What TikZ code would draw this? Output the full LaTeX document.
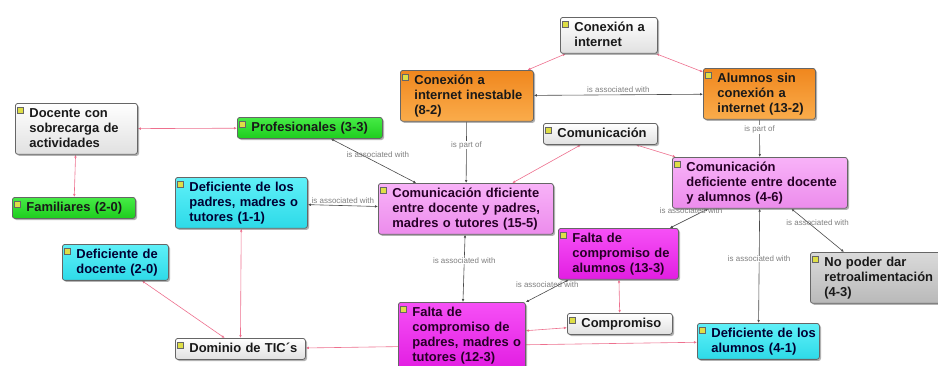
\documentclass[tikz,border=0pt]{standalone}
\usepackage{fontspec}
\setmainfont{Liberation Sans}
\usetikzlibrary{arrows.meta,shadows,backgrounds}

\definecolor{linkgray}{RGB}{75,75,75}
\definecolor{linkpink}{RGB}{238,112,142}
\definecolor{iconyellow}{RGB}{222,222,70}
\definecolor{orngtop}{RGB}{240,135,30}
\definecolor{orngbot}{RGB}{250,172,75}
\definecolor{grntop}{RGB}{70,235,70}
\definecolor{grnbot}{RGB}{30,205,30}
\definecolor{cyntop}{RGB}{95,240,248}
\definecolor{cynbot}{RGB}{45,218,232}
\definecolor{lpinktop}{RGB}{248,178,248}
\definecolor{lpinkbot}{RGB}{236,140,236}
\definecolor{mgnttop}{RGB}{246,80,246}
\definecolor{mgntbot}{RGB}{226,30,226}
\definecolor{grytop}{RGB}{218,218,218}
\definecolor{grybot}{RGB}{185,185,185}

\tikzset{
  linktip/.tip={Latex[length=3bp,width=2.6bp]},
  concept/.style={draw=black!60, line width=0.8bp, rounded corners=2.5bp,
    anchor=north west, align=left, inner xsep=3bp, inner ysep=4bp,
    font=\fontsize{13}{15}\selectfont\bfseries, text=black!90,
    execute at begin node={\leftskip=11bp\relax\rule{0pt}{10bp}},
    execute at end node={\rule[-3bp]{0pt}{3bp}},
    drop shadow={shadow xshift=1.6bp, shadow yshift=-1.6bp, fill=black!60, opacity=.5}},
  plain/.style={top color=white, bottom color=black!12},
  orng/.style={top color=orngtop, bottom color=orngbot},
  grn/.style={top color=grntop, bottom color=grnbot},
  cyn/.style={top color=cyntop, bottom color=cynbot, text=black!80!blue},
  lpink/.style={top color=lpinktop, bottom color=lpinkbot, text=black!70!violet},
  mgnt/.style={top color=mgnttop, bottom color=mgntbot, text=black!70!violet},
  gry/.style={top color=grytop, bottom color=grybot},
  icon/.style={draw=black!60, fill=iconyellow, line width=0.5bp,
    minimum width=6bp, minimum height=6bp, inner sep=0pt},
  assoc/.style={draw=linkgray, line width=0.6bp, arrows={linktip-linktip}},
  partof/.style={draw=linkgray, line width=0.6bp, arrows={-linktip}},
  xlink/.style={draw=linkpink, line width=0.6bp, arrows={linktip-linktip}},
  linklabel/.style={font=\fontsize{8}{9}\selectfont, text=black!50, inner sep=0.5bp},
  cutlabel/.style={linklabel, fill=white}
}

\begin{document}
\begin{tikzpicture}[x=1bp, y=-1bp]
  \useasboundingbox (0,0) rectangle (938,365);
  \clip (0,0) rectangle (938,365);

  % top row
  \node[concept, plain, text width=91bp]  (netA)     at (560,17) {Conexión a\\internet};
  \node[concept, orng, text width=127bp]  (netInest) at (400,70) {Conexión a\\internet inestable\\(8-2)};
  \node[concept, orng, text width=106bp]  (sinNet)   at (703,68) {Alumnos sin\\conexión a\\internet (13-2)};

  % left side
  \node[concept, plain, text width=116bp] (sobrecarga) at (15,103)  {Docente con\\sobrecarga de\\actividades};
  \node[concept, grn, text width=139bp]   (prof)       at (237,117) {Profesionales (3-3)};
  \node[concept, grn, text width=117bp]   (fam)        at (12,197)  {Familiares (2-0)};
  \node[concept, cyn, text width=126bp]   (defPadres)  at (175,177) {Deficiente de los\\padres, madres o\\tutores (1-1)};
  \node[concept, cyn, text width=100bp]   (defDoc)     at (62,244)  {Deficiente de\\docente (2-0)};
  \node[concept, plain, text width=124bp] (tic)        at (175,338) {Dominio de TIC´s};

  % middle
  \node[concept, lpink, text width=169bp] (comPadres)   at (378,183) {Comunicación dficiente\\entre docente y padres,\\madres o tutores (15-5)};
  \node[concept, plain, text width=108bp] (com)         at (543,123) {Comunicación};
  \node[concept, mgnt, text width=114bp]  (faltaAlum)   at (558,228) {Falta de\\compromiso de\\alumnos (13-3)};
  \node[concept, plain, text width=99bp]  (compr)       at (567,313) {Compromiso};
  \node[concept, mgnt, text width=121bp]  (faltaPadres) at (398,302) {Falta de\\compromiso de\\padres, madres o\\tutores (12-3)};

  % right side
  \node[concept, lpink, text width=169bp] (comAlum) at (672,157) {Comunicación\\deficiente entre docente\\y alumnos (4-6)};
  \node[concept, gry, text width=124bp]   (retro)   at (810,252) {No poder dar\\retroalimentación\\(4-3)};
  \node[concept, cyn, text width=116bp]   (defAlum) at (697,323) {Deficiente de los\\alumnos (4-1)};

  % small icons
  \foreach \n in {netA,netInest,sinNet,sobrecarga,prof,fam,defPadres,defDoc,tic,
                  comPadres,com,faltaAlum,compr,faltaPadres,comAlum,retro,defAlum}
    \node[icon] at ([xshift=5.5bp,yshift=-7bp]\n.north west) {};

  \begin{scope}[on background layer]
    \fill[white] (0,0) rectangle (938,365);

    % linking phrases
    \draw[assoc]  (netInest) -- node[linklabel, above=1.5bp] {is associated with} (sinNet);
    \draw[partof] (netInest) -- node[cutlabel, pos=.38] {is part of} (comPadres);
    \draw[partof] (sinNet) -- node[cutlabel, pos=.26] {is part of} (comAlum);
    \draw[assoc]  (prof) -- node[linklabel, pos=.55, yshift=8bp] {is associated with} (comPadres);
    \draw[assoc]  (defPadres) -- node[linklabel, above=1.5bp] {is associated with} (comPadres);
    \draw[assoc]  (comPadres) -- node[cutlabel, pos=.39] {is associated with} (faltaPadres);
    \draw[assoc]  (comAlum) -- node[linklabel, pos=.45, yshift=7bp] {is associated with} (faltaAlum);
    \draw[assoc]  (comAlum) -- node[cutlabel, pos=.44] {is associated with} (defAlum);
    \draw[assoc]  (comAlum) -- node[linklabel, pos=.5, yshift=8bp] {is associated with} (retro);
    \draw[assoc]  (faltaAlum) -- node[linklabel, pos=.5, yshift=6bp] {is associated with} (faltaPadres);

    % cross links
    \draw[xlink] (netA) -- (netInest);
    \draw[xlink] (netA) -- (sinNet);
    \draw[xlink] (sobrecarga) -- (prof);
    \draw[xlink] (sobrecarga) -- (fam);
    \draw[xlink] (com) -- (comPadres);
    \draw[xlink] (com) -- (comAlum);
    \draw[xlink] (faltaAlum) -- (compr);
    \draw[xlink] (faltaPadres) -- (compr);
    \draw[xlink] (defPadres) -- (tic);
    \draw[xlink] (defDoc) -- (tic);
    \draw[xlink] (tic) -- (defAlum);
  \end{scope}
\end{tikzpicture}
\end{document}
